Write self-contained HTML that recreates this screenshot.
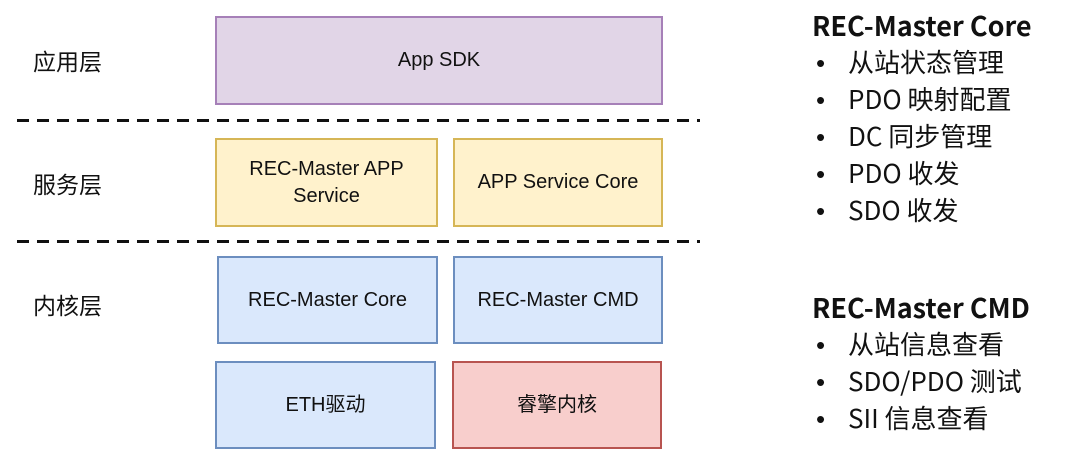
<!DOCTYPE html>
<html><head><meta charset="utf-8"><style>
body{margin:0;width:1080px;height:460px;background:#fff;position:relative;overflow:hidden;font-family:"Liberation Sans","Noto Sans CJK SC",sans-serif;}
.b{position:absolute;box-sizing:border-box;border:2px solid;display:flex;align-items:center;justify-content:center;text-align:center;font-size:20px;color:#111;line-height:27px;}
.p{background:#e1d5e7;border-color:#a680b8}
.y{background:#fff2cc;border-color:#d6b656}
.u{background:#dae8fc;border-color:#6c8ebf}
.r{background:#f8cecc;border-color:#b85450}
.l{position:absolute;left:33px;font-size:23px;font-family:"Noto Sans CJK SC",sans-serif;color:#111}
.t{position:absolute;left:812px;font-family:"Noto Sans CJK SC",sans-serif;color:#111;font-size:26px;}
.t div{height:37px;line-height:37px;white-space:nowrap}
.t div.h{font-size:27px;font-weight:bold}
.t span{display:inline-block;width:36px;padding-left:4px;box-sizing:border-box;font-family:"Liberation Sans",sans-serif}
</style></head><body>
<div class="l" style="top:43px">应用层</div>
<div class="l" style="top:166px">服务层</div>
<div class="l" style="top:287px">内核层</div>
<svg style="position:absolute;left:0;top:0" width="1080" height="460"><g stroke="#111" stroke-width="3" stroke-dasharray="12 8"><line x1="17" y1="120.5" x2="700" y2="120.5"/><line x1="17" y1="241.5" x2="700" y2="241.5"/></g></svg>
<div class="b p" style="left:215px;top:16px;width:448px;height:89px">App SDK</div>
<div class="b y" style="left:215px;top:138px;width:223px;height:89px">REC-Master APP<br>Service</div>
<div class="b y" style="left:453px;top:138px;width:210px;height:89px">APP Service Core</div>
<div class="b u" style="left:217px;top:256px;width:221px;height:88px">REC-Master Core</div>
<div class="b u" style="left:453px;top:256px;width:210px;height:88px">REC-Master CMD</div>
<div class="b u" style="left:215px;top:361px;width:221px;height:88px">ETH驱动</div>
<div class="b r" style="left:452px;top:361px;width:210px;height:88px">睿擎内核</div>
<div class="t" style="top:6px"><div class="h">REC-Master Core</div><div><span>•</span>从站状态管理</div><div><span>•</span>PDO 映射配置</div><div><span>•</span>DC 同步管理</div><div><span>•</span>PDO 收发</div><div><span>•</span>SDO 收发</div></div>
<div class="t" style="top:288px"><div class="h">REC-Master CMD</div><div><span>•</span>从站信息查看</div><div><span>•</span>SDO/PDO 测试</div><div><span>•</span>SII 信息查看</div></div>
</body></html>
